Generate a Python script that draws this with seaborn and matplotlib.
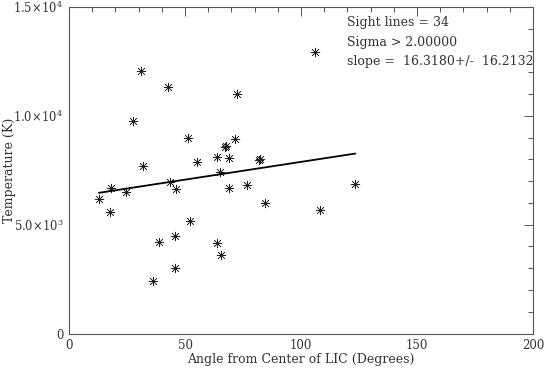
import matplotlib
matplotlib.use("Agg")
import matplotlib.pyplot as plt
import seaborn as sns
import numpy as np
import pandas as pd
from matplotlib.ticker import MultipleLocator, FixedLocator

# values
angle = [12.9, 18.2, 17.8, 24.4, 27.8, 31.1, 32.1, 36.1, 39.0, 42.5, 43.5,
         45.5, 45.8, 46.1, 51.4, 52.3, 55.0, 63.7, 63.7, 65.0, 65.4, 67.2,
         67.6, 69.0, 69.0, 71.5, 72.6, 76.9, 82.0, 82.3, 84.3, 105.9, 108.1,
         123.4]
temperature = [6170, 6700, 5580, 6480, 9750, 12050, 7690, 2420, 4200, 11330,
               6980, 4480, 3010, 6630, 8990, 5190, 7890, 8100, 4150, 7400,
               3610, 8550, 8620, 8080, 6700, 8930, 11020, 6800, 7980, 8020,
               5980, 12920, 5690, 6890]
y_ticks = [0, 5000, 10000, 15000]
y_labels = ["0", r"5.0$\!\times\!$10$^3$", r"1.0$\!\times\!$10$^4$",
            r"1.5$\!\times\!$10$^4$"]
slope = 16.3180
slope_err = 16.2132
intercept = 6253
n_lines = 34
sigma_cut = 2.0

df = pd.DataFrame({"angle": angle, "temp": temperature})
fit_x = np.array([min(angle), max(angle)])
fit = pd.DataFrame({"angle": fit_x, "temp": intercept + slope * fit_x})

sns.set_style("white")
plt.rcParams["font.family"] = ["DejaVu Serif"]
plt.rcParams["mathtext.fontset"] = "dejavuserif"
txt = "#333333"
fs = 9

fig = plt.figure(figsize=(5.45, 3.69), dpi=100)
ax = fig.add_axes([0.1266, 0.0962, 0.8514, 0.8848])

sns.scatterplot(data=df, x="angle", y="temp", ax=ax, marker=(8, 2, 0),
                s=40, color="#222222", linewidth=0.45, edgecolor="#222222")
sns.lineplot(data=fit, x="angle", y="temp", ax=ax, color="black", linewidth=1.3)

ax.set_xlim(0, 200)
ax.set_ylim(0, 15000)
ax.xaxis.set_major_locator(MultipleLocator(50))
ax.xaxis.set_minor_locator(MultipleLocator(10))
ax.yaxis.set_major_locator(FixedLocator(y_ticks))
ax.yaxis.set_minor_locator(MultipleLocator(1000))
ax.set_yticklabels(y_labels)
ax.tick_params(which="both", direction="in", top=True, right=True,
               labelsize=8.5, colors="#555555", labelcolor=txt, width=0.7)
ax.tick_params(axis="y", labelsize=8.3)
ax.tick_params(which="major", length=6.5, pad=4)
ax.tick_params(which="minor", length=3.3)
for sp in ax.spines.values():
    sp.set_color("#555555")
    sp.set_linewidth(0.8)

ax.set_xlabel("Angle from Center of LIC (Degrees)", fontsize=fs, color=txt,
              labelpad=1)
ax.set_ylabel("Temperature (K)", fontsize=fs, color=txt, va="center")
ax.yaxis.set_label_coords(-0.128, 0.5)

ax.text(0.6, 0.953, f"Sight lines = {n_lines}", transform=ax.transAxes,
        fontsize=fs, color=txt, va="center")
ax.text(0.6, 0.892, f"Sigma > {sigma_cut:.5f}", transform=ax.transAxes,
        fontsize=fs, color=txt, va="center")
ax.text(0.6, 0.834, f"slope =  {slope:.4f}+/-  {slope_err:.4f}",
        transform=ax.transAxes, fontsize=fs, color=txt, va="center")

fig.savefig("out.png", dpi=100)
